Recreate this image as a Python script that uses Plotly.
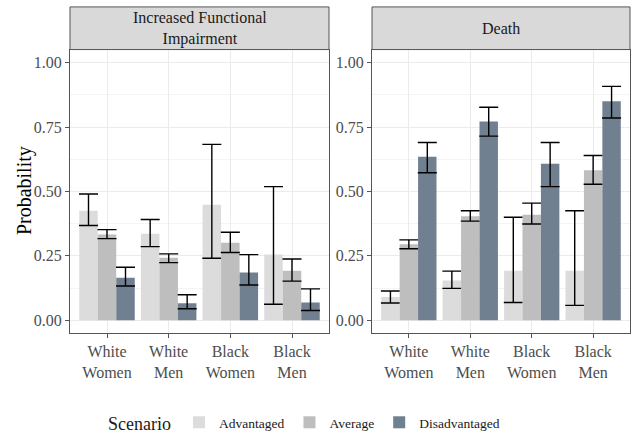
import plotly.graph_objects as go

groups = ["White<br>Women", "White<br>Men", "Black<br>Women", "Black<br>Men"]
scenarios = ["Advantaged", "Average", "Disadvantaged"]
colors = ["#dcdcdc", "#bebebe", "#708090"]
panels = ["Increased Functional<br>Impairment", "Death"]

# Increased Functional Impairment
ifi_est = [[0.425, 0.336, 0.449, 0.255],
           [0.333, 0.243, 0.301, 0.192],
           [0.165, 0.066, 0.186, 0.069]]
ifi_lo = [[0.368, 0.286, 0.241, 0.062],
          [0.317, 0.224, 0.263, 0.152],
          [0.133, 0.045, 0.137, 0.038]]
ifi_hi = [[0.490, 0.391, 0.683, 0.519],
          [0.352, 0.258, 0.342, 0.238],
          [0.206, 0.099, 0.255, 0.122]]

# Death
death_est = [[0.090, 0.154, 0.192, 0.192],
             [0.295, 0.404, 0.410, 0.582],
             [0.635, 0.772, 0.608, 0.850]]
death_lo = [[0.067, 0.124, 0.069, 0.058],
            [0.278, 0.385, 0.374, 0.528],
            [0.573, 0.715, 0.519, 0.785]]
death_hi = [[0.114, 0.191, 0.400, 0.425],
            [0.312, 0.425, 0.455, 0.640],
            [0.690, 0.827, 0.690, 0.908]]

yticks = [0, 0.25, 0.5, 0.75, 1.0]
ytick_labels = ["0.00", "0.25", "0.50", "0.75", "1.00"]

FONT = "Liberation Serif, Times New Roman, serif"
fig = go.Figure()

data = [(ifi_est, ifi_lo, ifi_hi), (death_est, death_lo, death_hi)]
for p, (est, lo, hi) in enumerate(data):
    xa = "x" if p == 0 else "x2"
    ya = "y" if p == 0 else "y2"
    for s, name in enumerate(scenarios):
        fig.add_trace(go.Bar(
            x=groups, y=est[s], name=name, legendgroup=name,
            showlegend=(p == 0), marker=dict(color=colors[s], line=dict(width=0)),
            error_y=dict(type="data", symmetric=False,
                         array=[h - e for h, e in zip(hi[s], est[s])],
                         arrayminus=[e - l for e, l in zip(est[s], lo[s])],
                         color="black", thickness=1.4, width=9.5),
            xaxis=xa, yaxis=ya,
        ))

ydom = [1 - 335.7 / 441, 1 - 50 / 441]
xdoms = [[70 / 633, 329 / 633], [372 / 633, 630 / 633]]

axis_common = dict(showline=True, mirror=True, linecolor="#555555", linewidth=1,
                   gridcolor="#ebebeb", ticks="outside", ticklen=4, tickcolor="#555555",
                   tickfont=dict(family=FONT, size=16, color="#4d4d4d"), zeroline=False)

layout = dict(
    width=633, height=441,
    margin=dict(l=0, r=0, t=0, b=0),
    paper_bgcolor="white", plot_bgcolor="white",
    barmode="group", bargap=0.1, bargroupgap=0,
    font=dict(family=FONT, color="#1a1a1a"),
    legend=dict(orientation="h", x=106 / 633, xanchor="left", y=1 - 428 / 441, yanchor="middle",
                title=dict(text="Scenario", font=dict(family=FONT, size=18, color="#1a1a1a")),
                font=dict(family=FONT, size=13.5, color="#1a1a1a"), itemwidth=30,
                traceorder="normal"),
)
for p in range(2):
    xk = "xaxis" if p == 0 else "xaxis2"
    yk = "yaxis" if p == 0 else "yaxis2"
    layout[xk] = dict(axis_common, domain=xdoms[p], range=[-0.6, 3.6],
                      anchor="y" if p == 0 else "y2", showgrid=True)
    layout[yk] = dict(axis_common, domain=ydom, range=[-0.048, 1.051],
                      anchor="x" if p == 0 else "x2", tickvals=yticks, ticktext=ytick_labels,
                      minor=dict(tickvals=[0.125, 0.375, 0.625, 0.875], showgrid=True,
                                 gridcolor="#f4f4f4", ticks=""))
fig.update_layout(**layout)

shapes = []
annotations = []
for p in range(2):
    shapes.append(dict(type="rect", xref="paper", yref="paper",
                       x0=xdoms[p][0], x1=xdoms[p][1], y0=ydom[1], y1=1 - 7 / 441,
                       fillcolor="#d9d9d9", line=dict(color="#555555", width=1), layer="above"))
    annotations.append(dict(text=panels[p], xref="paper", yref="paper",
                            x=(xdoms[p][0] + xdoms[p][1]) / 2, y=(ydom[1] + 1 - 7 / 441) / 2,
                            showarrow=False, font=dict(family=FONT, size=16, color="#1a1a1a"),
                            xanchor="center", yanchor="middle"))
annotations.append(dict(text="Probability", xref="paper", yref="paper",
                        x=24 / 633, y=(ydom[0] + ydom[1]) / 2, textangle=-90,
                        showarrow=False, xanchor="center", yanchor="middle",
                        font=dict(family=FONT, size=20, color="black")))
fig.update_layout(shapes=shapes, annotations=annotations)

fig.write_html("out.html", config={"displayModeBar": False},
               post_script="document.body.style.margin='0';document.body.style.padding='0';")
